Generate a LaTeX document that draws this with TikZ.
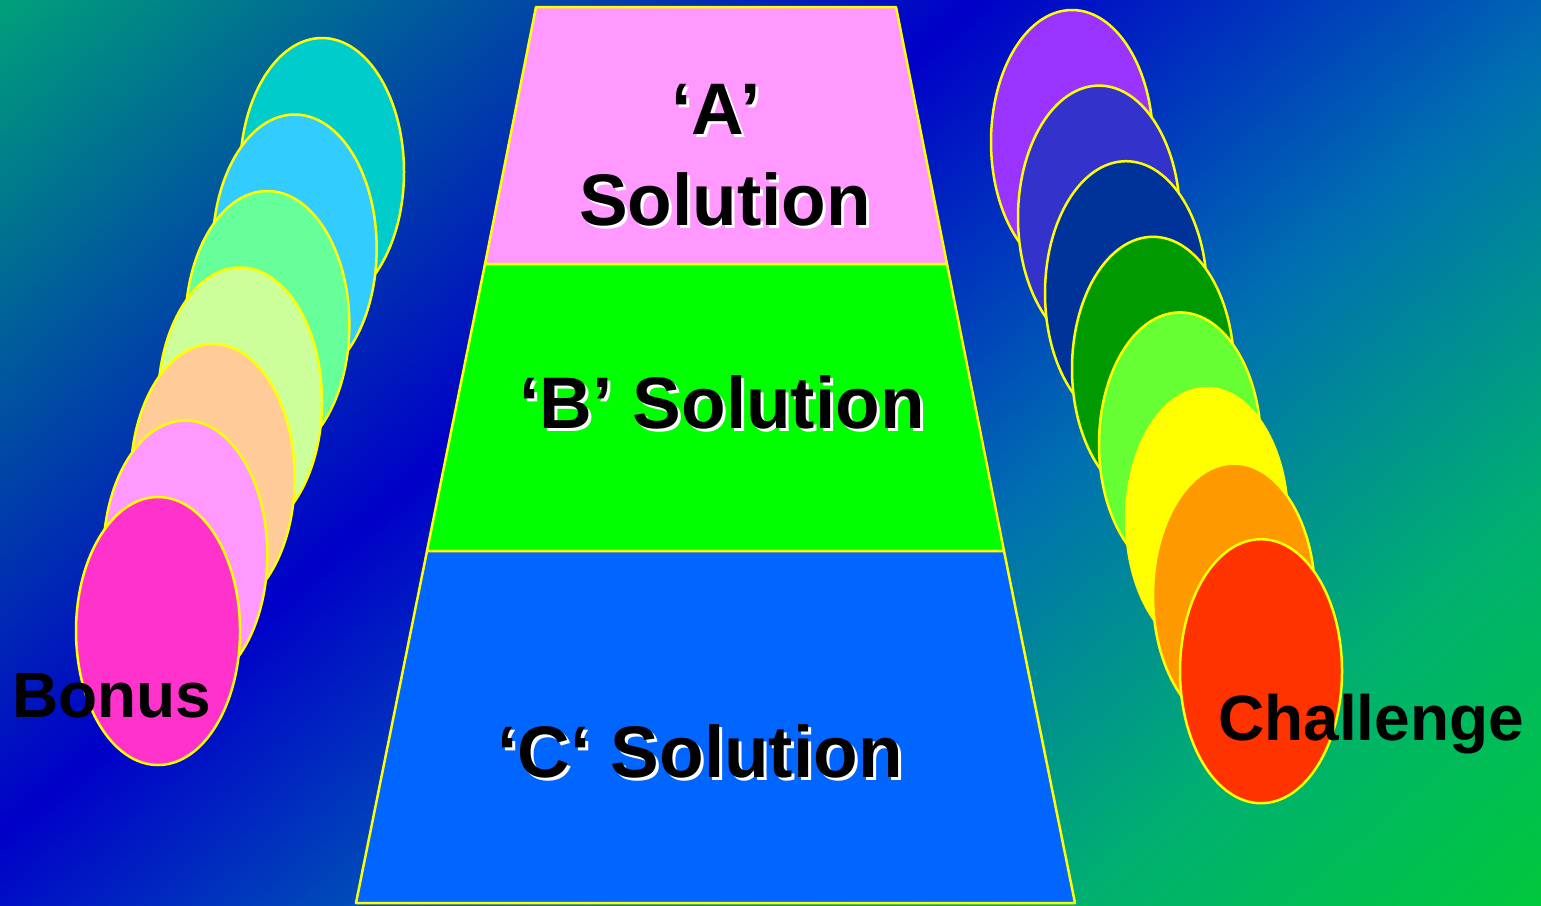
\documentclass[tikz,border=0pt]{standalone}
\usepackage{fontspec}
\setmainfont{Liberation Sans}
\usetikzlibrary{calc}

\definecolor{bgteal}{HTML}{00A07A}
\definecolor{bgblue}{HTML}{0000C8}
\definecolor{bgsea}{HTML}{0070B0}
\definecolor{bgmint}{HTML}{00B070}
\definecolor{bggreen}{HTML}{00C83C}
\definecolor{rimyellow}{HTML}{FFFF00}
\definecolor{solA}{HTML}{FF99FF}
\definecolor{solB}{HTML}{00FF00}
\definecolor{solC}{HTML}{0066FF}
% left stack, top to bottom
\definecolor{lOne}{HTML}{00CCCC}
\definecolor{lTwo}{HTML}{33CCFF}
\definecolor{lThree}{HTML}{66FF99}
\definecolor{lFour}{HTML}{CCFF99}
\definecolor{lFive}{HTML}{FFCC99}
\definecolor{lSix}{HTML}{FF99FF}
\definecolor{lSeven}{HTML}{FF33CC}
% right stack, top to bottom
\definecolor{rOne}{HTML}{9933FF}
\definecolor{rTwo}{HTML}{3333CC}
\definecolor{rThree}{HTML}{003399}
\definecolor{rFour}{HTML}{009900}
\definecolor{rFive}{HTML}{66FF33}
\definecolor{rSix}{HTML}{FFFF00}
\definecolor{rSeven}{HTML}{FF9900}
\definecolor{rEight}{HTML}{FF3300}

\pgfdeclarehorizontalshading{bgshade}{100bp}{color(0bp)=(bgteal); color(25bp)=(bgteal); color(43.8bp)=(bgblue); color(56bp)=(bgsea); color(66bp)=(bgmint); color(75bp)=(bggreen); color(100bp)=(bggreen)}

\tikzset{
  rim/.style={draw=rimyellow, line width=2.5pt, line join=round},
  disc/.style={rim},
  sol/.style={font=\fontsize{73}{80}\selectfont\bfseries, inner sep=0pt, anchor=base, text=black},
  solshade/.style={sol, text=white, xshift=3pt, yshift=-3pt},
  side/.style={font=\fontsize{64}{70}\selectfont\bfseries, inner sep=0pt, anchor=base west, text=black}
}

\begin{document}
\begin{tikzpicture}[x=1pt, y=-1pt]
    \useasboundingbox (0,0) rectangle (1541,905);

    % background
    \begin{scope}
      \clip (0,0) rectangle (1541,905);
      \begin{scope}[transform canvas={rotate=-49.55}]
        \shade[shading=bgshade] (0,-1250) rectangle (1689,650);
      \end{scope}
    \end{scope}

    % ladder
    \coordinate (tl) at (536,7);    \coordinate (tr) at (896,7);
    \coordinate (ml) at (485,264);  \coordinate (mr) at (947,264);
    \coordinate (nl) at (427,551);  \coordinate (nr) at (1004,551);
    \coordinate (bl) at (356,903);  \coordinate (br) at (1075,903);
    \filldraw[rim, fill=solA] (tl) -- (tr) -- (mr) -- (ml) -- cycle;
    \filldraw[rim, fill=solB] (ml) -- (mr) -- (nr) -- (nl) -- cycle;
    \filldraw[rim, fill=solC] (nl) -- (nr) -- (br) -- (bl) -- cycle;

    % discs
    \foreach \c [count=\k from 0] in {lOne,lTwo,lThree,lFour,lFive,lSix,lSeven}
      \filldraw[disc, fill=\c] ({322-27.33*\k},{172+76.5*\k}) ellipse [x radius=82, y radius=134];
    \foreach \c [count=\k from 0] in {rOne,rTwo,rThree,rFour,rFive,rSix,rSeven,rEight}
      \filldraw[disc, fill=\c] ({1072+27*\k},{142+75.6*\k}) ellipse [x radius=81, y radius=132];

    % labels
    \node[solshade] (aMarkS) at (716,134) {‘A’};
    \node[sol]      (aMark)  at (716,134) {‘A’};
    \node[solshade] (aSolS)  at (725,225) {Solution};
    \node[sol]      (aSol)   at (725,225) {Solution};
    \node[solshade] (bSolS)  at (722,428) {‘B’ Solution};
    \node[sol]      (bSol)   at (722,428) {‘B’ Solution};
    \node[solshade] (cSolS)  at (700,777) {‘C‘ Solution};
    \node[sol]      (cSol)   at (700,777) {‘C‘ Solution};

    \node[side] (bonus)     at (12,717)   {Bonus};
    \node[side] (challenge) at (1218,740) {Challenge};
\end{tikzpicture}
\end{document}
